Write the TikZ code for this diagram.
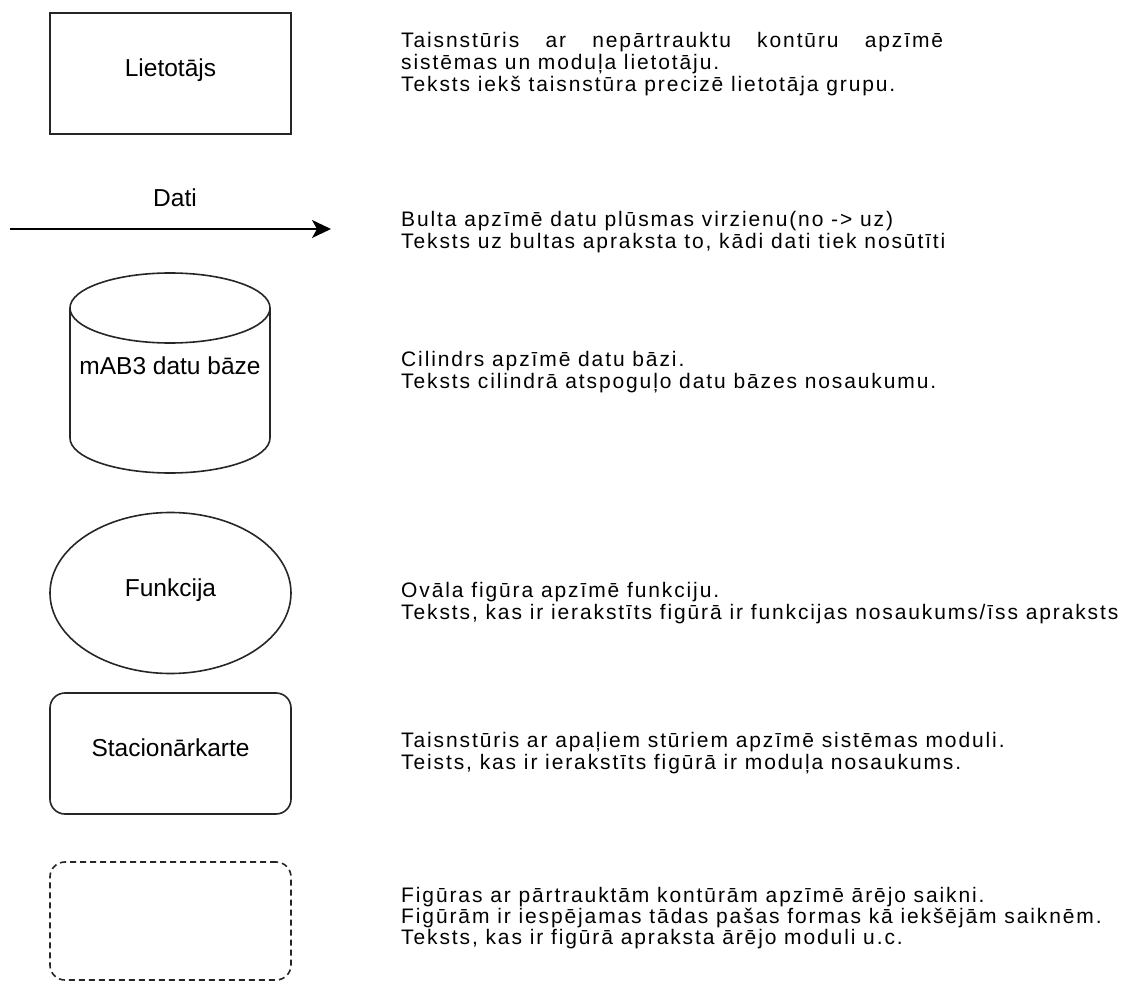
\documentclass[tikz,border=0pt]{standalone}
\usepackage{fontspec}
\setmainfont{Liberation Sans}
\newfontfamily\descfont[LetterSpace=9]{Liberation Sans}
\usetikzlibrary{arrows.meta,shapes.geometric}

\tikzset{
  outline/.style={draw=black!85, line width=1.6pt},
  lblfont/.style={font=\fontsize{24.5}{29}\selectfont, inner sep=0pt},
  lbl/.style={lblfont, text height=12pt, text depth=6pt},
  boxshape/.style={outline, rectangle, minimum width=241pt, minimum height=121pt, lbl},
  ovalshape/.style={outline, ellipse, minimum width=241pt, minimum height=161pt, lbl},
  moduleshape/.style={outline, rectangle, rounded corners=15pt, minimum width=241pt, minimum height=121pt, lbl},
  externalshape/.style={moduleshape, dash pattern=on 6pt off 4pt},
  flow/.style={line width=1.5pt, -{Stealth[length=19pt, width=18pt, inset=5pt]}},
  desc/.style={anchor=base west, inner sep=0pt, font=\descfont\fontsize{21}{22}\selectfont},
}

\begin{document}
\begin{tikzpicture}[x=1pt, y=-1pt]
  \useasboundingbox (0,0) rectangle (1125,981);

  % user
  \node[boxshape] (user) at (170.5,73.5) {Lietotājs};

  % data flow arrow
  \coordinate (flowstart) at (10,229);
  \coordinate (flowend) at (331,229);
  \draw[flow] (flowstart) -- (flowend);
  \node[lblfont, anchor=base] (flowlbl) at (175,207) {Dati};

  % database cylinder
  \draw[outline] (70,308) -- (70,438)
    arc[start angle=180, end angle=0, x radius=100, y radius=35] -- (270,308);
  \draw[outline] (170,308) ellipse [x radius=100, y radius=35];
  \node[lbl] (dblbl) at (170,372) {mAB3 datu bāze};

  % function
  \node[ovalshape] (func) at (170.5,593) {Funkcija};

  % module
  \node[moduleshape] (module) at (170.5,753.5) {Stacionārkarte};

  % external link
  \node[externalshape, minimum height=118pt] (ext) at (170.5,921) {};

  % descriptions
  \node[desc] (d1a) at (401,48) {\makebox[542pt][s]{Taisnstūris ar nepārtrauktu kontūru apzīmē}};
  \node[desc] (d1b) at (401,70) {sistēmas un moduļa lietotāju.};
  \node[desc] (d1c) at (401,92) {Teksts iekš taisnstūra precizē lietotāja grupu.};

  \node[desc] (d2a) at (401,227) {Bulta apzīmē datu plūsmas virzienu(no -> uz)};
  \node[desc] (d2b) at (401,249) {Teksts uz bultas apraksta to, kādi dati tiek nosūtīti};

  \node[desc] (d3a) at (401,367) {Cilindrs apzīmē datu bāzi.};
  \node[desc] (d3b) at (401,389) {Teksts cilindrā atspoguļo datu bāzes nosaukumu.};

  \node[desc] (d4a) at (401,597) {Ovāla figūra apzīmē funkciju.};
  \node[desc] (d4b) at (401,619) {Teksts, kas ir ierakstīts figūrā ir funkcijas nosaukums/īss apraksts};

  \node[desc] (d5a) at (401,747) {Taisnstūris ar apaļiem stūriem apzīmē sistēmas moduli.};
  \node[desc] (d5b) at (401,769) {Teists, kas ir ierakstīts figūrā ir moduļa nosaukums.};

  \node[desc] (d6a) at (401,902) {Figūras ar pārtrauktām kontūrām apzīmē ārējo saikni.};
  \node[desc] (d6b) at (401,923) {Figūrām ir iespējamas tādas pašas formas kā iekšējām saiknēm.};
  \node[desc] (d6c) at (401,944) {Teksts, kas ir figūrā apraksta ārējo moduli u.c.};
\end{tikzpicture}
\end{document}
